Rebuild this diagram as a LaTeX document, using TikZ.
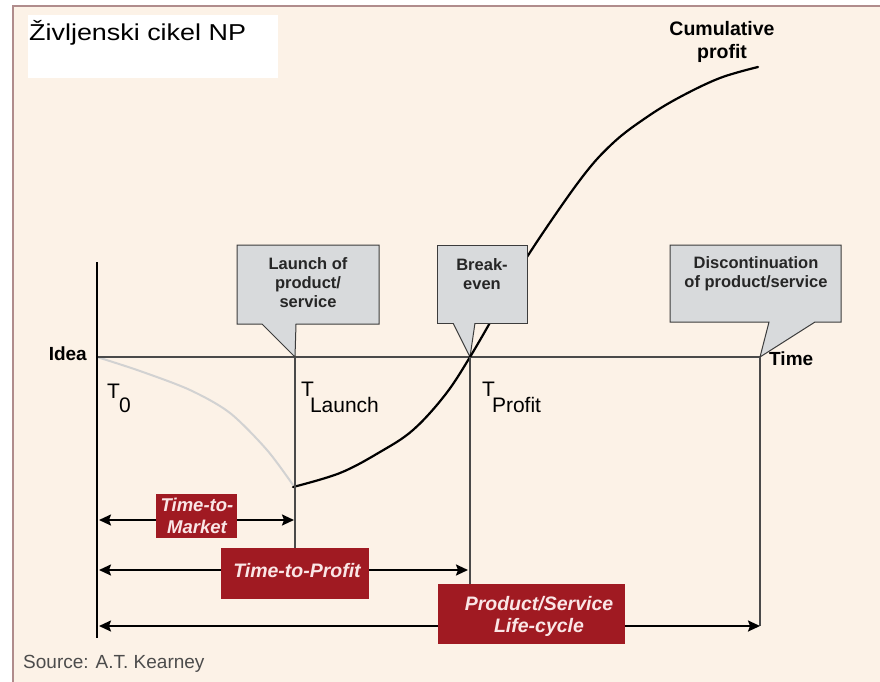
\documentclass[tikz,border=0pt]{standalone}
\usepackage{fontspec}
\setmainfont{Liberation Sans}
\usetikzlibrary{arrows.meta}
\definecolor{bg}{HTML}{FCF2E7}
\definecolor{framec}{HTML}{B08C8C}
\definecolor{callfill}{HTML}{D8DADC}
\definecolor{callline}{HTML}{3C3C3C}
\definecolor{redboxc}{HTML}{A01A22}
\definecolor{redtextc}{HTML}{FAE6E6}
\definecolor{axisc}{HTML}{4A4A4A}
\definecolor{lossc}{HTML}{D2D2D2}
\newcommand\fsz[2]{\fontsize{#1}{#2}\selectfont}
\begin{document}
\begin{tikzpicture}[x=1pt,y=-1pt,
  call/.style={fill=callfill,draw=callline,line width=1pt,line join=miter},
  calltext/.style={align=center,font=\bfseries\fsz{16.5}{19},text=black!85,inner sep=0pt},
  redbox/.style={fill=redboxc,draw=none,inner sep=0pt,anchor=north west},
  redtext/.style={align=center,font=\bfseries\itshape\fsz{19.5}{22},text=redtextc,inner sep=0pt},
  span/.style={line width=2pt,draw=black,{Stealth[length=12pt,width=11pt,inset=2pt]}-{Stealth[length=12pt,width=11pt,inset=2pt]}},
  guide/.style={line width=1.2pt,draw=axisc},
  axlabel/.style={font=\bfseries\fsz{19}{22},inner sep=0pt},
  tlabel/.style={font=\fsz{21}{24},inner sep=0pt,anchor=base west}
]
\useasboundingbox (0,0) rectangle (880,682);
% background and frame
\fill[white] (0,0) rectangle (880,682);
\fill[bg] (13,6) rectangle (880,682);
\draw[framec,line width=1.5pt] (13,682) -- (13,6) -- (880,6);
% title
\fill[white] (28,15) rectangle (278,78);
\node[anchor=base west,inner sep=0pt,font=\fsz{23}{26}] (title) at (29,41) {\scalebox{1.17}[1]{Življenski cikel NP}};

% coordinates
\coordinate (O) at (97,357);
\coordinate (axtop) at (97,262);
\coordinate (axbot) at (97,638);
\coordinate (Tend) at (760,357);
\coordinate (L0) at (295,357);
\coordinate (P0) at (470,357);
\coordinate (D0) at (760,357);

% loss curve (gray)
\draw[lossc,line width=2pt] plot[smooth] coordinates {(97,357) (140,371) (190,390) (230,413) (267,450) (293,485)};

% axes
\draw[guide] (O) -- (Tend);
\draw[line width=2.2pt] (axtop) -- (axbot);

% Launch callout
\draw[call] (237,245) -- (379,245) -- (379,324) -- (296,324) -- (L0) -- (262,324) -- (237,324) -- cycle;
\node[calltext] (launch) at (308,283) {Launch of\\product/\\service};

% Discontinuation callout
\draw[call] (670,245) -- (841,245) -- (841,322) -- (815,322) -- (D0) -- (769,322) -- (670,322) -- cycle;
\node[calltext] (disc) at (756,274) {Discontinuation\\of product/service};

% Break-even pointer (under curve)
\fill[callfill] (453,323) -- (P0) -- (475,323) -- cycle;
\draw[callline,line width=1pt] (453,323) -- (P0) -- (475,323);

% cumulative profit curve
\draw[line width=2.2pt,line cap=round] plot[smooth,tension=0.6] coordinates {(293,487) (340,473) (380,452) (413,430) (445,395) (470,357) (500,305) (527,257) (580,180) (613,143) (647,117) (680,97) (720,78) (758,67)};

% Break-even box over curve
\fill[callfill] (437,245) rectangle (527,323);
\draw[callline,line width=1pt] (453,323) -- (437,323) -- (437,245) -- (527,245) -- (527,323) -- (475,323);
\node[calltext] (brk) at (482,274) {Break-\\even};

% labels
\node[axlabel,anchor=base east] (idea) at (87,360) {Idea};
\node[axlabel,anchor=base west] (time) at (769,365) {Time};
\node[font=\bfseries\fsz{19.5}{23},align=center,inner sep=0pt] (cum) at (722,42) {Cumulative\\profit};
\node[tlabel] (t0) at (107,398) {T\kern-1pt\raisebox{-14pt}{0}};
\node[tlabel] (tl) at (301,396) {T\kern-4pt\raisebox{-16pt}{Launch}};
\node[tlabel] (tp) at (482,396) {T\kern-3pt\raisebox{-16pt}{Profit}};

% vertical guides
\coordinate (Lb) at (295,548);
\coordinate (Pb) at (470,584);
\coordinate (Db) at (760,626);
\draw[guide] (L0) -- (Lb);
\draw[guide] (P0) -- (Pb);
\draw[guide] (D0) -- (Db);

% spans
\coordinate (ttmL) at (99,520);
\coordinate (ttmR) at (294,520);
\coordinate (ttpL) at (99,570);
\coordinate (ttpR) at (468,570);
\coordinate (lcL) at (99,626);
\coordinate (lcR) at (760,626);
\draw[span] (ttmL) -- (ttmR);
\draw[span] (ttpL) -- (ttpR);
\draw[span] (lcL) -- (lcR);

% red boxes
\node[redbox,minimum width=81pt,minimum height=44pt] (ttmbox) at (156,494) {};
\node[redtext,font=\bfseries\itshape\fsz{18.5}{22}] (ttmtext) at (197,516) {Time-to-\\Market};
\node[redbox,minimum width=148pt,minimum height=51pt] (ttpbox) at (221,548) {};
\node[redtext] (ttptext) at (297,571) {Time-to-Profit};
\node[redbox,minimum width=187pt,minimum height=60pt] (lcbox) at (438,584) {};
\node[redtext] (lctext) at (539,616) {Product/Service\\Life-cycle};

% source
\node[anchor=base west,inner sep=0pt,font=\fsz{19}{22},text=black!70] (src) at (23,668) {Source: A.T. Kearney};
\end{tikzpicture}
\end{document}
